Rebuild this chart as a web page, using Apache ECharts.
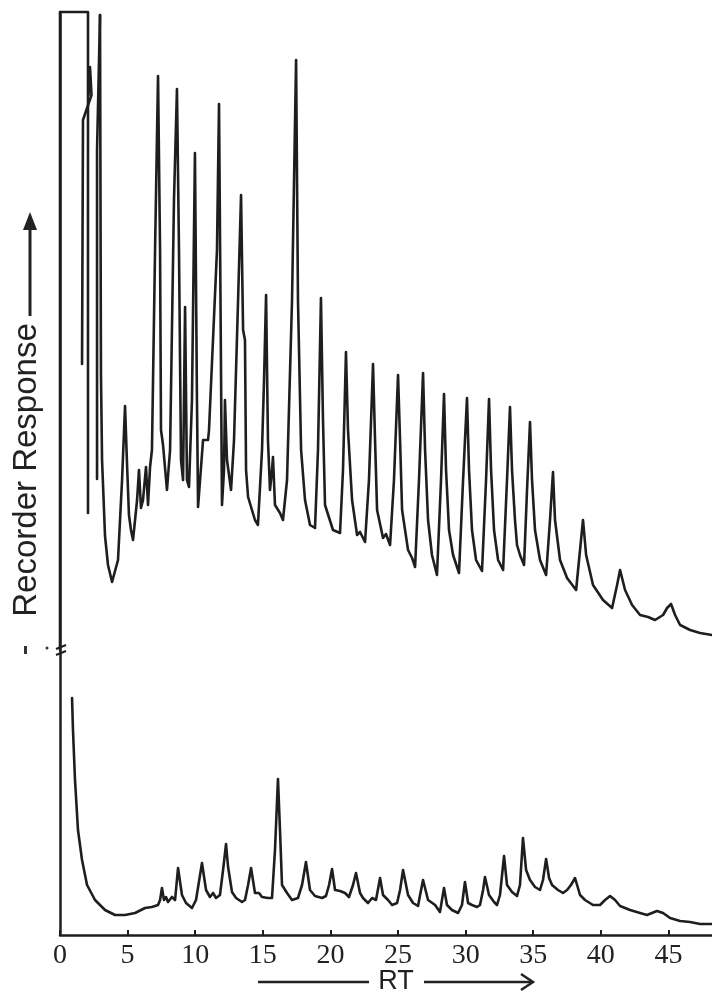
<!DOCTYPE html>
<html>
<head>
<meta charset="utf-8">
<script src="https://cdn.jsdelivr.net/npm/echarts@6/dist/echarts.min.js"></script>
<style>
html,body{margin:0;padding:0;background:#ffffff;}
#chart{width:712px;height:992px;}
</style>
</head>
<body>
<div id="chart"></div>
<script>
// Retention time axis (minutes)
const rtTicks = [0, 5, 10, 15, 20, 25, 30, 35, 40, 45];
const rtMax = 48.22;
const responseMax = 92.3;

// Upper chromatogram: off-scale solvent peak (pen held at full scale)
const solventX = [0, 0, 2.07, 2.07];
const solventY = [28.5, 92.3, 92.3, 42.2];

// Upper chromatogram: pen strokes of the first early peaks
const earlyPeakAX = [2.11, 2.22, 2.33, 1.70, 1.63];
const earlyPeakAY = [84.0, 86.8, 84.0, 81.5, 57.1];
const earlyPeakBX = [2.96, 2.74, 2.74];
const earlyPeakBY = [92.0, 78.5, 45.6];

// Upper chromatogram: main trace
const upperX = [2.96,3.03,3.11,3.33,3.55,3.85,4.29,4.59,4.81,4.96,5.10,5.25,5.40,5.55,5.70,5.84,5.99,6.14,6.36,6.51,6.66,6.80,
  7.03,7.25,7.40,7.47,7.62,7.91,8.14,8.43,8.65,8.80,8.95,9.10,9.25,9.39,9.54,9.76,9.98,10.13,10.21,10.35,10.58,10.95,11.02,11.61,
  11.76,11.87,11.98,12.13,12.20,12.35,12.65,12.87,13.17,13.39,13.54,13.68,13.76,13.91,14.42,14.64,14.94,15.09,15.24,15.38,15.53,
  15.68,15.75,15.90,16.27,16.49,16.79,17.16,17.46,17.60,17.83,18.12,18.49,18.86,19.08,19.30,19.45,19.60,20.19,20.71,20.93,21.15,
  21.30,21.60,21.97,22.19,22.56,22.85,23.15,23.30,23.45,23.89,24.11,24.41,24.70,25.00,25.15,25.30,25.74,26.04,26.26,26.55,26.85,
  27.00,27.22,27.51,27.88,28.18,28.40,28.55,28.77,29.07,29.51,29.81,30.10,30.25,30.47,30.77,31.21,31.51,31.73,31.88,32.10,32.40,
  32.77,33.06,33.28,33.43,33.65,33.80,34.02,34.32,34.54,34.76,34.91,35.13,35.50,35.95,36.24,36.46,36.61,36.98,37.50,38.17,38.46,
  38.68,38.91,39.42,40.16,40.83,41.20,41.42,41.79,42.31,42.90,43.49,44.01,44.60,44.90,45.19,45.49,45.86,46.60,47.34,48.22];
const upperY = [92.0,56.0,47.5,39.9,37.0,35.3,37.5,45.5,52.9,47.0,42.0,40.5,39.5,41.5,43.5,46.5,42.7,43.5,46.8,43.0,46.8,48.5,
  68.5,85.9,68.5,50.5,49.0,44.5,48.5,73.5,84.6,68.5,47.5,45.5,62.8,45.5,44.8,53.5,78.2,53.5,42.8,43.0,49.5,49.5,50.5,68.5,
  83.1,63.5,43.0,46.5,53.5,47.5,44.5,49.5,63.5,74.0,60.5,59.5,46.5,43.8,41.5,41.0,48.5,55.5,64.0,49.5,44.5,
  46.5,47.8,43.0,42.2,41.5,45.5,63.5,87.5,63.5,48.5,43.5,41.0,40.7,48.5,63.7,51.5,43.0,40.5,40.2,46.5,58.3,
  50.5,43.5,40.0,40.3,39.3,45.5,57.1,49.5,42.5,39.7,40.1,39.0,45.5,56.0,49.5,42.5,38.5,37.7,36.8,45.5,56.2,
  48.5,41.5,38.0,36.0,45.5,54.1,46.5,40.5,38.0,36.2,45.5,53.7,46.5,40.5,37.5,36.4,45.5,53.6,46.5,40.5,37.5,
  36.5,45.5,52.8,46.5,41.5,39.0,38.0,37.0,44.5,51.3,45.5,40.5,37.5,36.0,41.5,46.3,41.5,37.5,35.7,34.5,38.5,
  41.5,38.0,35.0,33.5,32.7,35.0,36.5,34.5,33.0,32.0,31.8,31.5,32.0,32.7,33.1,32.0,31.0,30.5,30.2,30.0];

// Lower chromatogram
const lowerX = [0.89,0.96,1.11,1.33,1.63,2.00,2.59,3.33,4.07,4.81,5.55,6.29,6.80,7.25,7.40,7.54,7.69,7.84,7.99,8.28,8.51,8.73,
  9.02,9.32,9.76,10.06,10.50,10.80,11.09,11.32,11.54,11.83,12.06,12.28,12.43,12.72,13.02,13.46,13.68,13.91,14.13,14.42,14.72,
  14.94,15.38,15.68,15.90,16.12,16.27,16.42,16.79,17.16,17.60,17.90,18.19,18.49,18.86,19.38,19.67,19.90,20.12,20.34,20.71,21.08,
  21.37,21.67,21.89,22.19,22.41,22.78,23.08,23.37,23.67,23.89,24.26,24.56,24.93,25.15,25.37,25.74,26.11,26.48,26.63,26.85,27.22,
  27.74,28.10,28.25,28.40,28.62,28.99,29.44,29.73,29.95,30.18,30.47,30.84,31.06,31.29,31.43,31.73,32.10,32.32,32.54,32.84,33.06,
  33.43,33.80,34.02,34.24,34.47,34.76,35.13,35.50,35.72,35.95,36.17,36.39,36.83,37.20,37.50,37.79,38.09,38.46,38.83,39.42,39.94,
  40.31,40.68,41.05,41.42,42.16,42.90,43.41,43.78,44.15,44.60,45.12,45.86,46.60,47.34,48.22];
const lowerY = [23.7,20.5,15.5,10.5,7.5,5.0,3.5,2.5,2.0,2.0,2.2,2.7,2.8,3.0,3.5,4.7,3.5,3.8,3.3,3.8,3.5,6.7,
  4.0,3.2,2.7,3.5,7.2,4.5,3.8,4.2,3.7,4.0,6.5,9.1,6.8,4.3,3.7,3.3,3.5,5.0,6.7,4.2,4.2,
  3.8,3.7,3.7,8.5,15.6,10.5,5.0,4.2,3.5,3.7,5.0,7.3,4.5,3.9,3.7,3.9,5.0,6.6,4.5,4.4,4.2,
  3.8,5.0,6.2,4.2,3.7,3.2,3.7,3.5,5.7,4.0,3.5,3.0,3.2,4.5,6.5,4.0,3.2,2.9,4.0,5.5,3.5,
  3.0,2.3,3.5,4.7,3.0,2.5,2.2,3.0,5.3,3.2,3.0,2.8,3.0,4.5,5.8,4.0,3.3,3.0,4.0,7.9,5.0,
  4.3,3.9,5.0,9.7,6.5,5.5,4.8,4.5,5.5,7.6,5.7,5.0,4.5,4.2,4.5,5.0,5.7,4.0,3.5,3.0,3.0,
  3.5,3.9,3.5,2.9,2.5,2.2,2.0,2.2,2.4,2.2,1.7,1.4,1.3,1.1,1.1];

function pairs(xs, ys) { return xs.map((x, i) => [x, ys[i]]); }

const ink = '#1e1e1e';
const traceStyle = { color: ink, width: 2.6, join: 'round', cap: 'round' };
function traceSeries(name, xs, ys) {
  return {
    name: name, type: 'line', data: pairs(xs, ys), symbol: 'none',
    smooth: false, clip: false, silent: true, animation: false,
    lineStyle: traceStyle
  };
}

const chart = echarts.init(document.getElementById('chart'), null, { renderer: 'canvas' });
chart.setOption({
  backgroundColor: '#ffffff',
  animation: false,
  grid: { left: 60, right: 0, top: 12, bottom: 57, containLabel: false },
  xAxis: {
    type: 'value', min: 0, max: rtMax, interval: 5,
    axisLine: { show: true, lineStyle: { color: ink, width: 2.5 } },
    axisTick: { show: true, inside: true, length: 5, lineStyle: { color: ink, width: 2 } },
    splitLine: { show: false },
    axisLabel: {
      show: true, margin: 7, showMaxLabel: false,
      fontFamily: 'Liberation Serif', fontSize: 28, color: '#222',
      formatter: function (v) { return rtTicks.indexOf(v) >= 0 ? String(v) : ''; }
    }
  },
  yAxis: {
    type: 'value', min: 0, max: responseMax,
    axisLine: { show: true, lineStyle: { color: ink, width: 2.5 } },
    axisTick: { show: false }, axisLabel: { show: false }, splitLine: { show: false }
  },
  series: [
    traceSeries('solvent', solventX, solventY),
    traceSeries('earlyA', earlyPeakAX, earlyPeakAY),
    traceSeries('earlyB', earlyPeakBX, earlyPeakBY),
    traceSeries('upper', upperX, upperY),
    traceSeries('lower', lowerX, lowerY)
  ],
  graphic: [
    { type: 'text', x: 27, y: 470, rotation: Math.PI / 2,
      style: { text: 'Recorder Response', font: '33px "Liberation Sans"', fill: '#222', align: 'center', verticalAlign: 'middle' } },
    { type: 'line', shape: { x1: 30, y1: 316, x2: 30, y2: 226 }, style: { stroke: '#222', lineWidth: 3 } },
    { type: 'polygon', shape: { points: [[30, 212], [23, 230], [37, 230]] }, style: { fill: '#222' } },
    { type: 'rect', shape: { x: 24, y: 646, width: 3, height: 8 }, style: { fill: '#333' } },
    { type: 'circle', shape: { cx: 47, cy: 648, r: 1.5 }, style: { fill: '#333' } },
    { type: 'line', shape: { x1: 56, y1: 649, x2: 66, y2: 645 }, style: { stroke: ink, lineWidth: 2 } },
    { type: 'line', shape: { x1: 56, y1: 655, x2: 66, y2: 651 }, style: { stroke: ink, lineWidth: 2 } },
    { type: 'text', x: 396, y: 982,
      style: { text: 'RT', font: '27px "Liberation Sans"', fill: '#222', align: 'center', verticalAlign: 'middle' } },
    { type: 'line', shape: { x1: 258, y1: 982, x2: 369, y2: 982 }, style: { stroke: '#222', lineWidth: 2.5 } },
    { type: 'line', shape: { x1: 424, y1: 982, x2: 532, y2: 982 }, style: { stroke: '#222', lineWidth: 2.5 } },
    { type: 'polyline', shape: { points: [[521, 974], [533, 982], [521, 990]] }, style: { stroke: '#222', lineWidth: 2.5, fill: null } }
  ]
});
</script>
</body>
</html>
